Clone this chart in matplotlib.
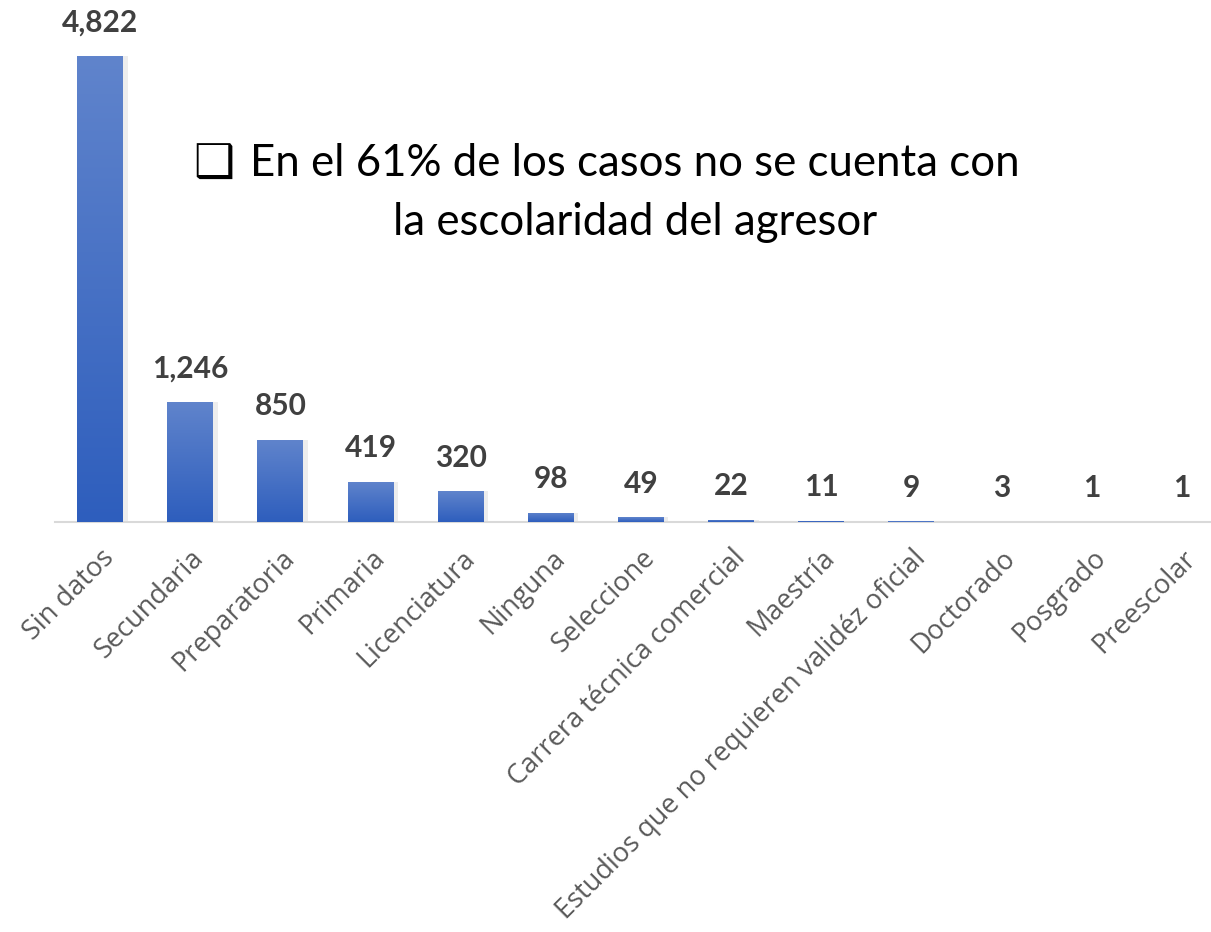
import matplotlib.pyplot as plt
import matplotlib.transforms as mtransforms
import numpy as np
from matplotlib.colors import LinearSegmentedColormap

# Data
categorias = ['Sin datos', 'Secundaria', 'Preparatoria', 'Primaria', 'Licenciatura',
              'Ninguna', 'Seleccione', 'Carrera técnica comercial', 'Maestría',
              'Estudios que no requieren validéz oficial', 'Doctorado', 'Posgrado',
              'Preescolar']
valores = [4822, 1246, 850, 419, 320, 98, 49, 22, 11, 9, 3, 1, 1]

plt.rcParams['font.family'] = ['Lato', 'DejaVu Sans']

fig = plt.figure(figsize=(12.11, 9.32), dpi=100)
ax = fig.add_axes([55 / 1211, 1 - 522 / 932, 1172 / 1211, 512 / 932])

x = np.arange(len(valores))
bars = ax.bar(x, valores, width=0.51, color='#4472C4', zorder=2)

# gradient fill on each bar (lighter top, darker bottom)
cmap = LinearSegmentedColormap.from_list('grad', ['#2E5EBD', '#6084CC'])
grad = np.linspace(0, 1, 256).reshape(-1, 1)
for b in bars:
    x0, y0 = b.get_x(), b.get_y()
    w, h = b.get_width(), b.get_height()
    # soft shadow
    ax.bar(x0 + w / 2 + 0.03, h, width=w + 0.04, bottom=0, color='#000000',
           alpha=0.07, zorder=1, linewidth=0)
    im = ax.imshow(grad, extent=[x0, x0 + w, y0, y0 + h], origin='lower',
                   cmap=cmap, aspect='auto', zorder=3)
    im.set_clip_path(b)
    b.set_facecolor('none')

for xi, v in zip(x, valores):
    ax.annotate(f'{v:,}', (xi, v), xytext=(0, 14), textcoords='offset points',
                ha='center', va='bottom', fontsize=21.5, fontweight='bold',
                color='#404040')

ax.set_xlim(-0.5, 12.5)
ax.set_ylim(0, 5298)
ax.set_xticks(x)
ax.set_xticklabels(categorias, rotation=45, ha='right', va='top',
                   rotation_mode='anchor', fontsize=19.5, color='#595959',
                   family='Open Sans')
ax.tick_params(axis='x', length=0, pad=16)
shift = mtransforms.ScaledTranslation(0, 0, fig.dpi_scale_trans)
for lab in ax.get_xticklabels():
    lab.set_transform(lab.get_transform() + shift)
ax.set_yticks([])
for s in ['top', 'right', 'left']:
    ax.spines[s].set_visible(False)
ax.spines['bottom'].set_color('#D9D9D9')
ax.spines['bottom'].set_linewidth(1.5)

fig.text(193 / 1211, 1 - 177 / 932, '\u2751', fontsize=33, color='black',
         family='DejaVu Sans', va='baseline', ha='left')
fig.text(635 / 1211, 1 - 176 / 932, 'En el 61% de los casos no se cuenta con',
         fontsize=31.5, color='black', va='baseline', ha='center')
fig.text(635 / 1211, 1 - 235 / 932, 'la escolaridad del agresor',
         fontsize=31.5, color='black', va='baseline', ha='center')

fig.savefig('out.png', dpi=100)
